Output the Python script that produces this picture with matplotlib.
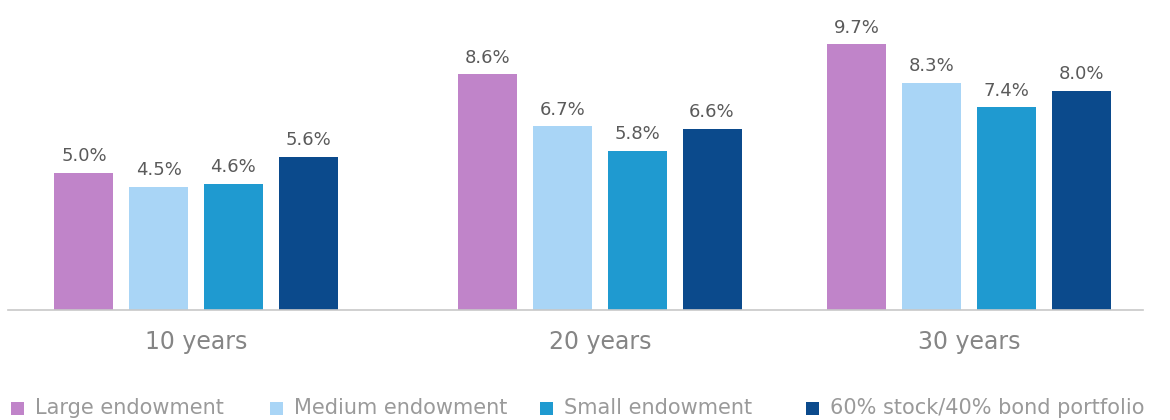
# Endowment returns vs 60/40 portfolio, grouped bars

import matplotlib
matplotlib.use("Agg")
import matplotlib.pyplot as plt
from matplotlib.patches import Rectangle
import numpy as np


# Data --------------------------------------------------------------------

periods = ["10 years", "20 years", "30 years"]
series = ["Large endowment", "Medium endowment", "Small endowment",
          "60% stock/40% bond portfolio"]
large = [5.0, 8.6, 9.7]
medium = [4.5, 6.7, 8.3]
small = [4.6, 5.8, 7.4]
stock_bond = [5.6, 6.6, 8.0]

colours = ["#c084c9", "#a9d5f6", "#1f9ad0", "#0b4a8c"]


# Layout (pixel-ish x units, figure is 1170 px wide) -----------------------

W, H = 1170, 420
group_centres = np.array([196, 600, 969])
bar_width = 59
bar_pitch = 74.7

fig = plt.figure(figsize=(11.7, 4.2), dpi=100)
ax = fig.add_axes([0, (H - 310) / H, 1, 310 / H])
ax.set_xlim(0, W)
ax.set_ylim(0, 310 / 27.4)

values = [large, medium, small, stock_bond]
offsets = (np.arange(4) - 1.5) * bar_pitch

for vals, off, col in zip(values, offsets, colours):
    bars = ax.bar(group_centres + off, vals, width=bar_width, color=col)
    for b, v in zip(bars, vals):
        ax.text(b.get_x() + b.get_width() / 2, v + 0.28, f"{v:.1f}%",
                ha="center", va="bottom", fontsize=13, color="#5a5a5a")

# baseline
ax.plot([8, 1143], [0, 0], color="#c8c8c8", lw=1.2, clip_on=False)

for spine in ax.spines.values():
    spine.set_visible(False)
ax.set_xticks([])
ax.set_yticks([])

for x, lab in zip(group_centres, periods):
    fig.text(x / W, 1 - 342 / H, lab, ha="center", va="center",
             fontsize=17, color="#858585")

# legend, laid out by hand along the bottom
legend_x = [11, 270, 540, 806]
sq = 13
for lx, lab, col in zip(legend_x, series, colours):
    fig.patches.append(Rectangle((lx / W, (H - 408 - sq / 2) / H), sq / W, sq / H,
                                 transform=fig.transFigure, facecolor=col,
                                 edgecolor="none"))
    fig.text((lx + sq + 11) / W, 1 - 408 / H, lab, ha="left", va="center",
             fontsize=15, color="#9a9a9a")

plt.savefig("out.png", dpi=100)
